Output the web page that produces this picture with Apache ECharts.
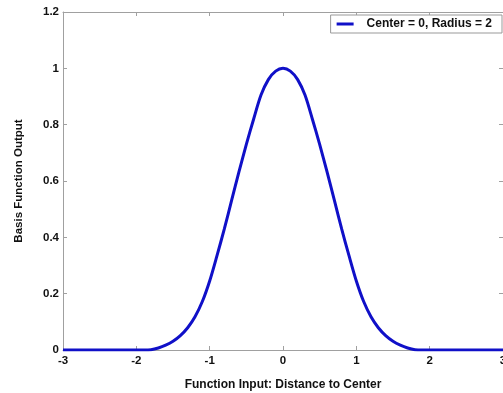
<!DOCTYPE html>
<html>
<head>
<meta charset="utf-8">
<script src="https://cdn.jsdelivr.net/npm/echarts@6/dist/echarts.min.js"></script>
<style>
  html, body { margin: 0; padding: 0; background: #fff; }
  #chart { width: 503px; height: 393px; }
</style>
</head>
<body>
<div id="chart"></div>
<script>
// Werte (x in Schritten von 0.1)
var xValues = [
  -3.0, -2.9, -2.8, -2.7, -2.6, -2.5, -2.4, -2.3, -2.2, -2.1, -2.0, -1.9,
  -1.8, -1.7, -1.6, -1.5, -1.4, -1.3, -1.2, -1.1, -1.0, -0.9, -0.8, -0.7,
  -0.6, -0.5, -0.4, -0.3, -0.2, -0.1, 0.0, 0.1, 0.2, 0.3, 0.4, 0.5,
  0.6, 0.7, 0.8, 0.9, 1.0, 1.1, 1.2, 1.3, 1.4, 1.5, 1.6, 1.7,
  1.8, 1.9, 2.0, 2.1, 2.2, 2.3, 2.4, 2.5, 2.6, 2.7, 2.8, 2.9, 3.0
];
var yValues = [
  0, 0, 0, 0, 0, 0, 0, 0, 0, 0, 0, 0,
  0.001, 0.007, 0.017, 0.031, 0.051, 0.079, 0.118, 0.172, 0.245, 0.335, 0.43, 0.532,
  0.633, 0.73, 0.82, 0.905, 0.96, 0.99, 1.0, 0.99, 0.96, 0.905, 0.82, 0.73,
  0.633, 0.532, 0.43, 0.335, 0.245, 0.172, 0.118, 0.079, 0.051, 0.031, 0.017, 0.007,
  0.001, 0, 0, 0, 0, 0, 0, 0, 0, 0, 0, 0, 0
];
var seriesName = 'Center = 0, Radius = 2';
var xTitle = 'Function Input: Distance to Center';
var yTitle = 'Basis Function Output';

var font = '"Liberation Sans", Arial, sans-serif';
var axisGray = '#a0a0a0';

var points = xValues.map(function (x, i) { return [x, yValues[i]]; });

var chart = echarts.init(document.getElementById('chart'), null, {renderer: 'canvas'});

// Gemeinsame Achsen-Einstellungen (MATLAB-Box mit Ticks innen)
function boxAxis(extra) {
  var base = {
    type: 'value',
    axisLine: { show: true, onZero: false, lineStyle: { color: axisGray, width: 1 } },
    axisTick: { show: true, inside: true, length: 4, lineStyle: { color: axisGray } },
    splitLine: { show: false },
    axisLabel: { color: '#111', fontFamily: font, fontWeight: 'bold', fontSize: 11 }
  };
  return Object.assign(base, extra);
}

chart.setOption({
  backgroundColor: '#fff',
  animation: false,
  grid: { left: 63, right: 0, top: 12, bottom: 43, outerBoundsMode: 'none' },
  legend: {
    right: 1,
    top: 15,
    padding: [3, 10, 3, 6],
    itemWidth: 17,
    itemHeight: 3,
    itemGap: 0,
    icon: 'rect',
    borderColor: '#999',
    borderWidth: 1,
    borderRadius: 0,
    backgroundColor: '#fff',
    textStyle: { color: '#111', fontFamily: font, fontWeight: 'bold', fontSize: 12, padding: [0, 0, 0, 8] },
    data: [seriesName]
  },
  xAxis: [
    boxAxis({
      min: -3, max: 3, interval: 1,
      name: xTitle,
      nameLocation: 'middle',
      nameGap: 29,
      nameTextStyle: { color: '#111', fontFamily: font, fontWeight: 'bold', fontSize: 12 },
      axisLabel: { color: '#111', fontFamily: font, fontWeight: 'bold', fontSize: 11.5, margin: 5 }
    }),
    boxAxis({
      min: -3, max: 3, interval: 1,
      position: 'top',
      axisLabel: { show: false }
    })
  ],
  yAxis: [
    boxAxis({
      min: 0, max: 1.2, interval: 0.2,
      name: yTitle,
      nameLocation: 'middle',
      nameGap: 38,
      nameTextStyle: { color: '#111', fontFamily: font, fontWeight: 'bold', fontSize: 11.5 },
      axisLabel: { color: '#111', fontFamily: font, fontWeight: 'bold', fontSize: 11.5, margin: 4 }
    }),
    boxAxis({
      min: 0, max: 1.2, interval: 0.2,
      position: 'right',
      axisLabel: { show: false }
    })
  ],
  series: [
    {
      name: seriesName,
      type: 'line',
      data: points,
      smooth: 0.3,
      showSymbol: false,
      lineStyle: { color: '#1010c8', width: 3 },
      itemStyle: { color: '#1010c8' }
    }
  ]
});
</script>
</body>
</html>
